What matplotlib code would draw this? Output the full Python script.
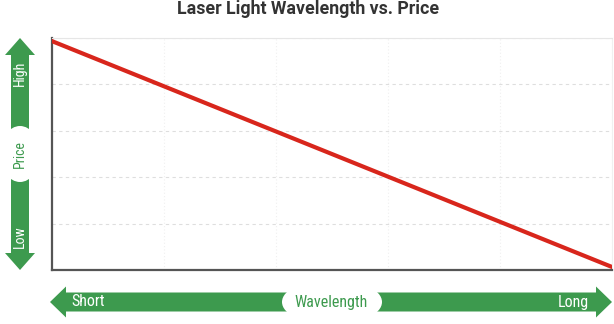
import matplotlib.pyplot as plt
from matplotlib.patches import Polygon, Ellipse

# relative wavelength (short -> long) and relative price (low -> high)
wavelength = [0, 10]
price = [9.87, 0.13]
grid_ticks = [0, 2, 4, 6, 8, 10]

title = "Laser Light Wavelength vs. Price"
y_label, y_low, y_high = "Price", "Low", "High"
x_label, x_low, x_high = "Wavelength", "Short", "Long"

green = "#3d9a4e"
red = "#d8261c"
narrow = ["Roboto Condensed", "Roboto", "DejaVu Sans"]

W, H = 614, 324
fig = plt.figure(figsize=(W / 100, H / 100), dpi=100)

ax = fig.add_axes([51.7 / W, 54 / H, 560.3 / W, 232 / H])
ax.plot(wavelength, price, color=red, lw=3.0, solid_capstyle="round", zorder=3)
ax.set_xlim(0, 10)
ax.set_ylim(0, 10)
ax.set_xticks(grid_ticks)
ax.set_yticks(grid_ticks)
ax.tick_params(length=0, labelbottom=False, labelleft=False)
ax.grid(axis="y", color="#dedede", lw=0.8, ls=(0, (3, 3)))
ax.grid(axis="x", color="#f0f0f0", lw=0.8, ls=(0, (1, 2)))
for s in ["left", "bottom"]:
    ax.spines[s].set_color("#555555")
    ax.spines[s].set_linewidth(1.6)
ax.spines["top"].set_color("#e6e6e6")
ax.spines["top"].set_linewidth(0.8)
ax.spines["right"].set_color("#f0f0f0")
ax.spines["right"].set_linewidth(0.8)

fig.text(308 / W, 1 - 14.3 / H, title, ha="center", va="baseline",
         fontsize=12.8, fontweight="bold", color="#333333", family="Roboto")

# decoration layer in pixel coordinates for the axis arrows
deco = fig.add_axes([0, 0, 1, 1], zorder=-1)
deco.set_xlim(0, W)
deco.set_ylim(H, 0)
deco.axis("off")

# vertical double arrow (price)
cx, t, b = 20, 38, 270
vert = [(cx, t), (cx + 15, t + 17), (cx + 9, t + 17), (cx + 9, b - 17),
        (cx + 15, b - 17), (cx, b), (cx - 15, b - 17), (cx - 9, b - 17),
        (cx - 9, t + 17), (cx - 15, t + 17)]
deco.add_patch(Polygon(vert, closed=True, color=green, lw=0))
deco.add_patch(Ellipse((cx, 154), 40, 56, color="white", lw=0))

# horizontal double arrow (wavelength)
cy, l, r = 302, 50, 612
horiz = [(l, cy), (l + 16, cy - 15.5), (l + 16, cy - 9.5), (r - 16, cy - 9.5),
         (r - 16, cy - 15.5), (r, cy), (r - 16, cy + 15.5), (r - 16, cy + 9.5),
         (l + 16, cy + 9.5), (l + 16, cy + 15.5)]
deco.add_patch(Polygon(horiz, closed=True, color=green, lw=0))
deco.add_patch(Ellipse((332, cy), 100, 46, color="white", lw=0))

deco.text(cx, 154, y_label, rotation=90, ha="center", va="center",
          fontsize=10, color=green, family=narrow)
deco.text(cx, 73, y_high, rotation=90, ha="center", va="center",
          fontsize=10, color="white", family=narrow)
deco.text(cx, 237, y_low, rotation=90, ha="center", va="center",
          fontsize=10, color="white", family=narrow)

deco.text(331, cy, x_label, ha="center", va="center",
          fontsize=11.5, color=green, family=narrow)
deco.text(71, cy, x_low, ha="left", va="center",
          fontsize=11.5, color="white", family=narrow)
deco.text(589, cy, x_high, ha="right", va="center",
          fontsize=11.5, color="white", family=narrow)

fig.savefig("out.png", dpi=100)
